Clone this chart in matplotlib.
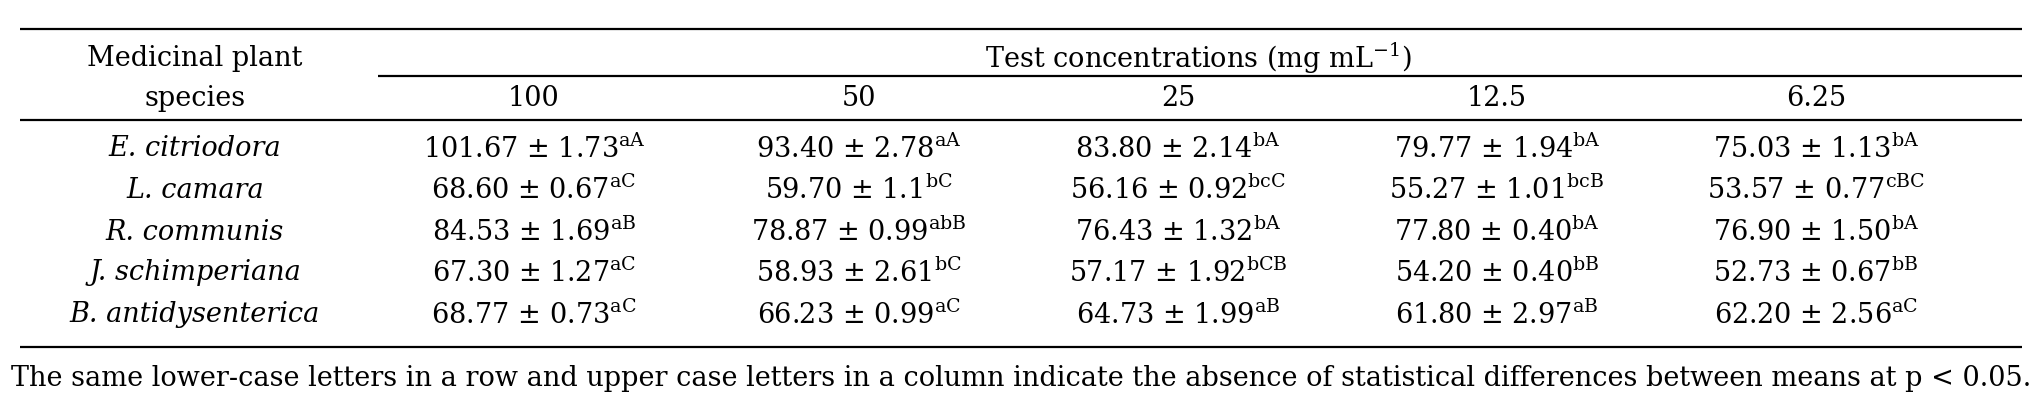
import matplotlib.pyplot as plt

plt.rcParams['font.family'] = ['DejaVu Serif']
plt.rcParams['mathtext.fontset'] = 'dejavuserif'

species = ["E. citriodora", "L. camara", "R. communis", "J. schimperiana", "B. antidysenterica"]
concentrations = ["100", "50", "25", "12.5", "6.25"]
means = [
    ["101.67", "93.40", "83.80", "79.77", "75.03"],
    ["68.60", "59.70", "56.16", "55.27", "53.57"],
    ["84.53", "78.87", "76.43", "77.80", "76.90"],
    ["67.30", "58.93", "57.17", "54.20", "52.73"],
    ["68.77", "66.23", "64.73", "61.80", "62.20"],
]
errors = [
    ["1.73", "2.78", "2.14", "1.94", "1.13"],
    ["0.67", "1.1", "0.92", "1.01", "0.77"],
    ["1.69", "0.99", "1.32", "0.40", "1.50"],
    ["1.27", "2.61", "1.92", "0.40", "0.67"],
    ["0.73", "0.99", "1.99", "2.97", "2.56"],
]
letters = [
    ["aA", "aA", "bA", "bA", "bA"],
    ["aC", "bC", "bcC", "bcB", "cBC"],
    ["aB", "abB", "bA", "bA", "bA"],
    ["aC", "bC", "bCB", "bB", "bB"],
    ["aC", "aC", "aB", "aB", "aC"],
]

fig = plt.figure(figsize=(20.42, 4), dpi=100)
ax = fig.add_axes([0, 0, 1, 1])
ax.set_xlim(0, 2042)
ax.set_ylim(400, 0)
ax.axis("off")

fs = 19.5
x_left, x_right = 20, 2022
col_x = [534, 859, 1178, 1497, 1816]
row_y = [149, 190, 232, 273, 315]

ax.hlines(29, x_left, x_right, color="black", lw=1.6)
ax.hlines(76, 378, x_right, color="black", lw=1.6)
ax.hlines(120, x_left, x_right, color="black", lw=1.6)
ax.hlines(347, x_left, x_right, color="black", lw=1.6)

ax.text(195, 59, "Medicinal plant", ha="center", va="center", fontsize=fs)
ax.text(195, 99, "species", ha="center", va="center", fontsize=fs)
ax.text(1198, 58, r"Test concentrations (mg mL$^{\mathrm{-1}}$)", ha="center", va="center", fontsize=fs)
for x, c in zip(col_x, concentrations):
    ax.text(x, 99, c, ha="center", va="center", fontsize=fs)

for i, sp in enumerate(species):
    ax.text(195, row_y[i], sp, ha="center", va="center", fontsize=fs, style="italic")
    for j, x in enumerate(col_x):
        s = means[i][j] + " ± " + errors[i][j] + r"$^{\mathrm{" + letters[i][j] + "}}$"
        ax.text(x, row_y[i], s, ha="center", va="center", fontsize=fs)

ax.text(1021, 378, "The same lower-case letters in a row and upper case letters in a column indicate "
        "the absence of statistical differences between means at p < 0.05.",
        ha="center", va="center", fontsize=fs)

fig.savefig("out.png", dpi=100)
